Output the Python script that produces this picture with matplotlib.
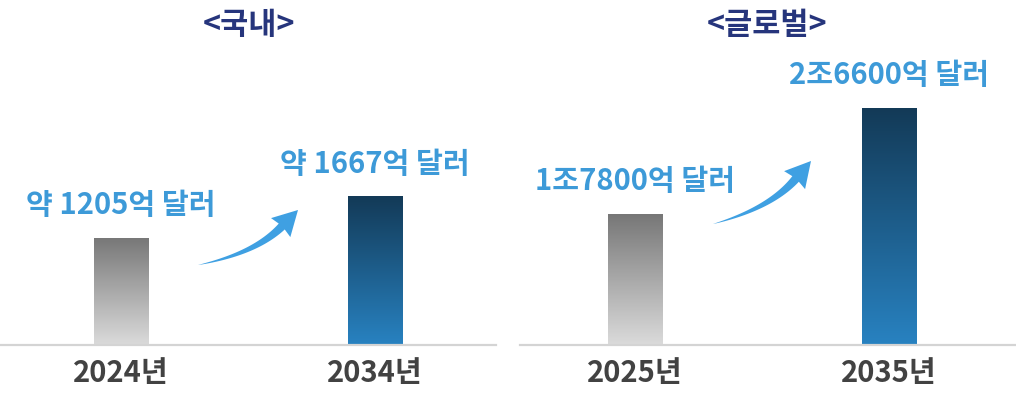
import numpy as np
import matplotlib
matplotlib.use("Agg")
import matplotlib.pyplot as plt
from matplotlib.patches import Rectangle, PathPatch
from matplotlib.path import Path
from matplotlib.colors import LinearSegmentedColormap

plt.rcParams['font.family'] = ['Noto Sans CJK KR', 'DejaVu Sans']

# ---- data ----
panel_titles = ["<국내>", "<글로벌>"]
dom_years = ["2024년", "2034년"]
dom_values = [1205, 1667]          # 억 달러
dom_labels = ["약 1205억 달러", "약 1667억 달러"]
glb_years = ["2025년", "2035년"]
glb_values = [17800, 26600]        # 억 달러
glb_labels = ["1조7800억 달러", "2조6600억 달러"]

W, H = 1016, 398
fig = plt.figure(figsize=(W / 100, H / 100), dpi=100)

def fx(px):
    return px / W

def fy(py):
    return 1 - py / H

gray_cmap = LinearSegmentedColormap.from_list("g", ["#dbdbdb", "#777777"])
blue_cmap = LinearSegmentedColormap.from_list("b", ["#2882c1", "#133a57"])

panels = [
    dict(x0=0, title=panel_titles[0], years=dom_years, values=dom_values,
         labels=dom_labels, ylim=(0, 3423), xlim=(-0.476, 1.476), tcx=249),
    dict(x0=520, title=panel_titles[1], years=glb_years, values=glb_values,
         labels=glb_labels, ylim=(6936, 32247), xlim=(-0.453, 1.5), tcx=767),
]

bar_w = 0.213
for p in panels:
    ax = fig.add_axes([fx(p["x0"]), fy(345), fx(496), (345 - 40) / H])
    ax.set_xlim(*p["xlim"])
    ax.set_ylim(*p["ylim"])
    for s in ["top", "right", "left"]:
        ax.spines[s].set_visible(False)
    ax.spines["bottom"].set_color("#d4d4d4")
    ax.spines["bottom"].set_linewidth(1.6)
    ax.set_yticks([])
    ax.set_xticks(range(len(p["years"])))
    ax.set_xticklabels(p["years"], fontsize=21, fontweight="bold", color="#424242")
    ax.tick_params(axis="x", length=0, pad=9)
    ybot = p["ylim"][0]
    for i, (v, lab) in enumerate(zip(p["values"], p["labels"])):
        cmap = gray_cmap if i == 0 else blue_cmap
        rect = Rectangle((i - bar_w / 2, ybot), bar_w, v - ybot,
                         facecolor="none", edgecolor="none")
        ax.add_patch(rect)
        grad = np.linspace(0, 1, 256).reshape(-1, 1)
        im = ax.imshow(grad, cmap=cmap, origin="lower", aspect="auto",
                       extent=(i - bar_w / 2, i + bar_w / 2, ybot, v),
                       zorder=2)
        im.set_clip_path(rect)
        ax.annotate(lab, xy=(i, v), xytext=(0, 23.5), textcoords="offset points",
                    ha="center", va="center", fontsize=21, fontweight="bold",
                    color="#3d9ad8")
    ax.set_xlim(*p["xlim"])
    ax.set_ylim(*p["ylim"])
    fig.text(fx(p["tcx"]), fy(25), p["title"], ha="center", va="center",
             fontsize=22, fontweight="bold", color="#26357c")

# ---- curved tapered arrows ----
def base_arrow():
    tail = np.array([198.0, 265.0])
    ctrl = np.array([255.0, 253.5])
    bmid = np.array([281.5, 226.5])
    tip = np.array([297.7, 210.0])
    t = np.linspace(0, 1, 60)[:, None]
    c = (1 - t) ** 2 * tail + 2 * (1 - t) * t * ctrl + t ** 2 * bmid
    d = 2 * (1 - t) * (ctrl - tail) + 2 * t * (bmid - ctrl)
    d = d / np.linalg.norm(d, axis=1, keepdims=True)
    n = np.stack([d[:, 1], -d[:, 0]], axis=1)
    hw = 4.2 * t[:, 0] ** 0.85
    upper = c + n * hw[:, None]
    lower = c - n * hw[:, None]
    hd = (tip - bmid) / np.linalg.norm(tip - bmid)
    hn = np.array([hd[1], -hd[0]])
    h1 = bmid + hn * 13.5 - hd * 1.5
    h2 = bmid - hn * 13.5 - hd * 1.5
    pts = np.vstack([upper, h1, tip, h2, lower[::-1]])
    return pts, tail, tip

def place_arrow(tail_new, tip_new):
    pts, tail, tip = base_arrow()
    v0 = tip - tail
    v1 = np.array(tip_new) - np.array(tail_new)
    z = complex(*v1) / complex(*v0)
    rel = pts - tail
    zc = (rel[:, 0] + 1j * rel[:, 1]) * z
    out = np.stack([zc.real, zc.imag], axis=1) + np.array(tail_new)
    fpts = np.stack([fx(out[:, 0]), fy(out[:, 1])], axis=1)
    path = Path(np.vstack([fpts, fpts[:1]]),
                [Path.MOVETO] + [Path.LINETO] * (len(fpts) - 1) + [Path.CLOSEPOLY])
    fig.add_artist(PathPatch(path, transform=fig.transFigure,
                             facecolor="#3fa0e2", edgecolor="none"))

place_arrow((198, 265), (298, 210))
place_arrow((713, 224), (811, 161))

fig.savefig("out.png", dpi=100)
